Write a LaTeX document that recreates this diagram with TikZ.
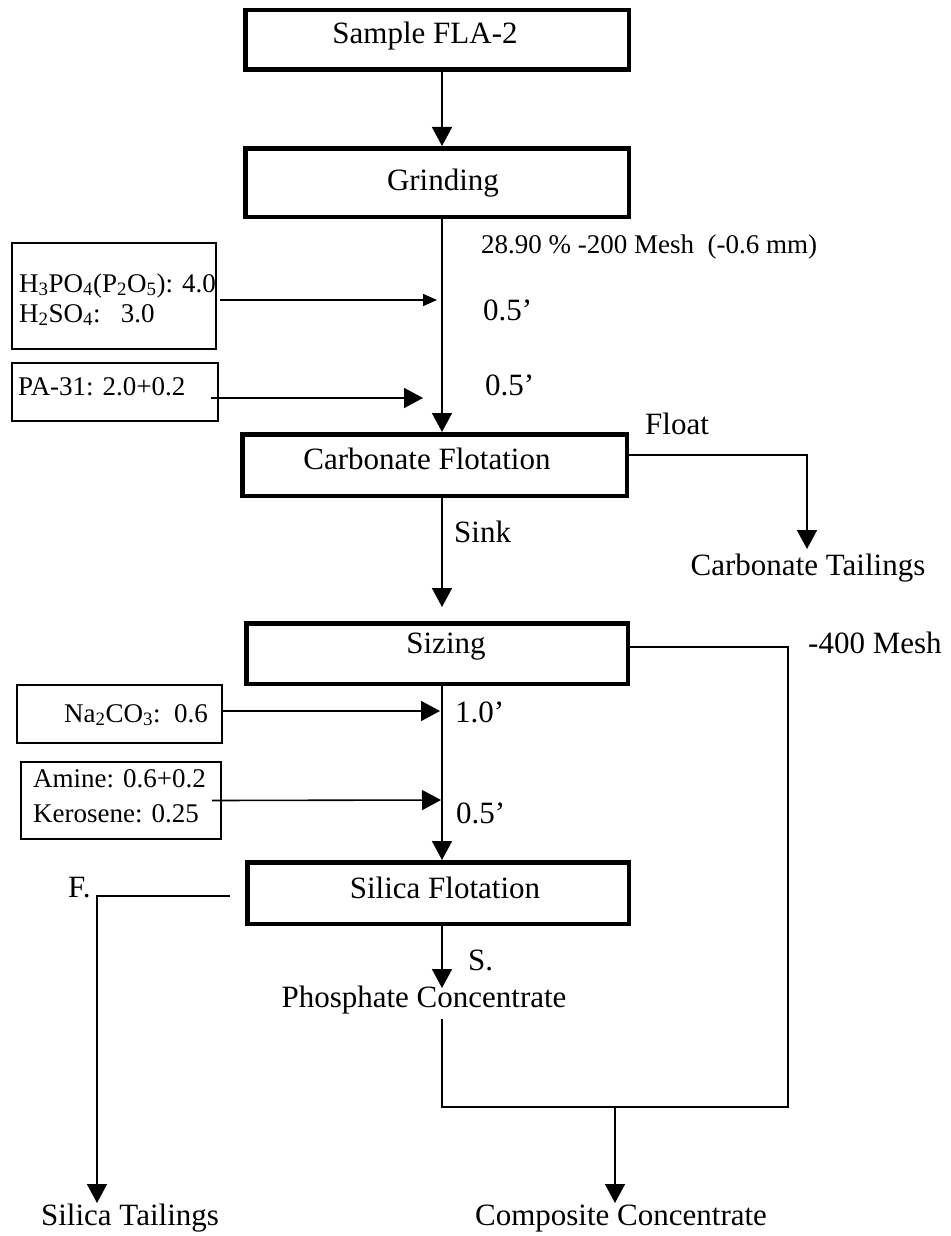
\documentclass[tikz,border=0pt]{standalone}
\usepackage{fontspec}
\setmainfont{Liberation Serif}
\usetikzlibrary{arrows.meta,calc}

\newcommand\mainsize{\fontsize{31}{36}\selectfont}
\newcommand\reagsize{\fontsize{27}{31}\selectfont}
\newcommand\notesize{\fontsize{27}{31}\selectfont}

\begin{document}
\begin{tikzpicture}[x=1pt,y=-1pt,
  stage/.style={draw,line width=4.5pt,inner sep=0pt},
  reagent/.style={draw,line width=1.8pt,inner sep=0pt},
  label/.style={anchor=base,inner sep=0pt,font=\mainsize},
  wire/.style={line width=1.6pt},
  flow/.style={wire,-{Triangle[length=19pt,width=20pt]}},
  feed/.style={wire,-{Triangle[length=14pt,width=12pt]}}]
\useasboundingbox (0,0) rectangle (950,1236);

% main line of the flowsheet
\coordinate (mx) at (442,0);

% process stages
\node[stage,minimum width=383.5pt,minimum height=59.5pt] (sample) at (437,40) {};
\node[stage,minimum width=383.5pt,minimum height=68.5pt] (grind)  at (437,182.5) {};
\node[stage,minimum width=384.5pt,minimum height=61.5pt] (carb)   at (434.5,465) {};
\node[stage,minimum width=381.5pt,minimum height=60.5pt] (sizing) at (437,653.5) {};
\node[stage,minimum width=381.5pt,minimum height=61.5pt] (silica) at (438,893) {};

\node[label] (sampletxt) at (425,44)  {Sample FLA-2};
\node[label] (grindtxt)  at (443,190) {Grinding};
\node[label] (carbtxt)   at (427,469) {Carbonate Flotation};
\node[label] (sizingtxt) at (446,653) {Sizing};
\node[label] (silicatxt) at (445,898) {Silica Flotation};

% reagent boxes
\node[reagent,minimum width=204pt,minimum height=106pt] (r1) at (114,296) {};
\node[reagent,minimum width=206pt,minimum height=58pt]  (r2) at (115,392) {};
\node[reagent,minimum width=205pt,minimum height=58pt]  (r3) at (119.5,714) {};
\node[reagent,minimum width=200pt,minimum height=77pt]  (r4) at (121,800.5) {};

\node[label,anchor=base west,font=\reagsize] (r1a) at (19,292)
  {H\textsubscript{3}PO\textsubscript{4}(P\textsubscript{2}O\textsubscript{5}): 4.0};
\node[label,anchor=base west,font=\reagsize] (r1b) at (19,322)
  {H\textsubscript{2}SO\textsubscript{4}:\ \ \ 3.0};
\node[label,anchor=base west,font=\reagsize] (r2a) at (18,395) {PA-31: 2.0+0.2};
\node[label,anchor=base east,font=\reagsize] (r3a) at (208,722)
  {Na\textsubscript{2}CO\textsubscript{3}:\ \ 0.6};
\node[label,anchor=base west,font=\reagsize] (r4a) at (33,787) {Amine: 0.6+0.2};
\node[label,anchor=base west,font=\reagsize] (r4b) at (33,822) {Kerosene: 0.25};

% annotations along the flow
\node[label,anchor=base west,font=\notesize] (mesh) at (481,253)
  {28.90 \% -200 Mesh\ \ (-0.6 mm)};
\node[label,anchor=base west] (t1) at (483,320) {0.5'};
\node[label,anchor=base west] (t2) at (485,395) {0.5'};
\node[label,anchor=base west] (t3) at (455,722) {1.0'};
\node[label,anchor=base west] (t4) at (456,823) {0.5'};
\node[label,anchor=base west] (float) at (645,434) {Float};
\node[label,anchor=base west] (sink)  at (454,542) {Sink};
\node[label,anchor=base west] (m400)  at (808,653) {-400 Mesh};
\node[label,anchor=base west] (ff)    at (68,897)  {F.};
\node[label,anchor=base west] (ss)    at (468,970) {S.};

% products
\node[label] (ctail) at (808,575)  {Carbonate Tailings};
\node[label] (pc)    at (424,1007) {Phosphate Concentrate};
\node[label] (stail) at (130,1225) {Silica Tailings};
\node[label] (comp)  at (621,1225) {Composite Concentrate};

% junction and arrow-tip points
\coordinate (j1) at (437,300);
\coordinate (j2) at (423,398);
\coordinate (j3) at (442,607);
\coordinate (j4) at (440,711);
\coordinate (j5) at (441,800);
\coordinate (ctip) at (807,549);
\coordinate (stip) at (97,1203);
\coordinate (ptip) at (442,988);
\coordinate (cjoin) at (788,1107);
\coordinate (cm) at (615,1107);
\coordinate (ctipb) at (615,1203);

% main flow
\draw[flow] (sample.south -| mx) -- (grind.north -| mx);
\draw[flow] (grind.south -| mx) -- (carb.north -| mx);
\draw[flow] (carb.south -| mx) -- (j3);
\draw[flow] (sizing.south -| mx) -- (silica.north -| mx);
\draw[flow] (silica.south -| mx) -- (ptip);

% reagent additions
\draw[feed] ([shift={(3,4)}]r1.east) -- (j1);
\draw[flow] ([shift={(-8,6)}]r2.east) -- (j2);
\draw[flow] ([shift={(0,-3)}]r3.east) -- (j4);
\draw[flow] ([shift={(-10,0)}]r4.east) -- (j5);

% side streams
\draw[flow] ([shift={(0,-10)}]carb.east) -| (ctip);
\draw[flow] ([shift={(-15,3)}]silica.west) -| (stip);
\draw[wire] ([shift={(0,-6.5)}]sizing.east) -| (cjoin) -| ([shift={(0,5)}]pc.south -| mx);
\draw[flow] (cm) -- (ctipb);
\end{tikzpicture}
\end{document}
